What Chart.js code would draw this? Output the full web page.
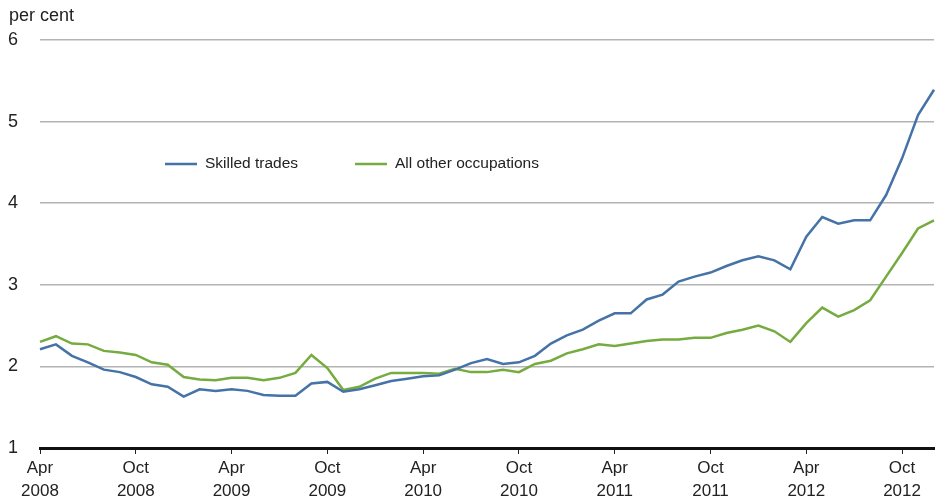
<!DOCTYPE html>
<html>
<head>
<meta charset="utf-8">
<script src="https://cdn.jsdelivr.net/npm/chart.js@4/dist/chart.umd.min.js"></script>
<style>
  html, body { margin: 0; padding: 0; background: #fff; }
  canvas { display: block; }
</style>
</head>
<body>
<canvas id="tradesChart" width="936" height="501"></canvas>
<script>
(function(){
  // monthly, Apr 2008 .. Dec 2012
  const months = [
    'Apr 2008','May 2008','Jun 2008','Jul 2008','Aug 2008','Sep 2008','Oct 2008','Nov 2008','Dec 2008',
    'Jan 2009','Feb 2009','Mar 2009','Apr 2009','May 2009','Jun 2009','Jul 2009','Aug 2009','Sep 2009','Oct 2009','Nov 2009','Dec 2009',
    'Jan 2010','Feb 2010','Mar 2010','Apr 2010','May 2010','Jun 2010','Jul 2010','Aug 2010','Sep 2010','Oct 2010','Nov 2010','Dec 2010',
    'Jan 2011','Feb 2011','Mar 2011','Apr 2011','May 2011','Jun 2011','Jul 2011','Aug 2011','Sep 2011','Oct 2011','Nov 2011','Dec 2011',
    'Jan 2012','Feb 2012','Mar 2012','Apr 2012','May 2012','Jun 2012','Jul 2012','Aug 2012','Sep 2012','Oct 2012','Nov 2012','Dec 2012'
  ];
  const tickMonths = ['Apr', 'Oct'];

  const skilledTrades = [
    2.21, 2.27, 2.13, 2.05, 1.96, 1.93, 1.87, 1.78, 1.75,
    1.63, 1.72, 1.70, 1.72, 1.70, 1.65, 1.64, 1.64, 1.79, 1.81, 1.69, 1.72,
    1.77, 1.82, 1.85, 1.88, 1.89, 1.96, 2.04, 2.09, 2.03, 2.05, 2.13, 2.28,
    2.38, 2.45, 2.56, 2.65, 2.65, 2.82, 2.88, 3.04, 3.10, 3.15, 3.23, 3.30,
    3.35, 3.30, 3.19, 3.59, 3.83, 3.75, 3.79, 3.79, 4.10, 4.55, 5.08, 5.39
  ];
  const otherOccupations = [
    2.30, 2.37, 2.28, 2.27, 2.19, 2.17, 2.14, 2.05, 2.02,
    1.87, 1.84, 1.83, 1.86, 1.86, 1.83, 1.86, 1.92, 2.14, 1.98, 1.71, 1.75,
    1.85, 1.92, 1.92, 1.92, 1.91, 1.97, 1.93, 1.93, 1.96, 1.93, 2.03, 2.07,
    2.16, 2.21, 2.27, 2.25, 2.28, 2.31, 2.33, 2.33, 2.35, 2.35, 2.41, 2.45,
    2.50, 2.43, 2.30, 2.53, 2.72, 2.61, 2.69, 2.81, 3.10, 3.39, 3.69, 3.79
  ];

  const BLUE = '#4572a7';
  const GREEN = '#76ab3f';
  const TEXT = '#222';
  const FONT = '"Liberation Sans", Arial, sans-serif';

  const isTick = i => tickMonths.includes(months[i].slice(0, 3));

  // unit label + legend drawn inside the plot, like the original
  const extras = {
    id: 'extras',
    afterDraw(chart) {
      const c = chart.ctx;
      c.save();
      c.fillStyle = TEXT;
      c.textBaseline = 'middle';
      c.font = '18px ' + FONT;
      c.fillText('per cent', 9, 16);

      const items = [
        { x: 165, label: chart.data.datasets[0].label, color: chart.data.datasets[0].borderColor },
        { x: 355, label: chart.data.datasets[1].label, color: chart.data.datasets[1].borderColor }
      ];
      const y = 164;
      c.font = '15.5px ' + FONT;
      items.forEach(it => {
        c.strokeStyle = it.color;
        c.lineWidth = 2.5;
        c.beginPath();
        c.moveTo(it.x, y);
        c.lineTo(it.x + 32, y);
        c.stroke();
        c.fillText(it.label, it.x + 40, y);
      });
      c.restore();
    }
  };

  const ctx = document.getElementById('tradesChart').getContext('2d');
  new Chart(ctx, {
    type: 'line',
    data: {
      labels: months,
      datasets: [
        { label: 'Skilled trades', data: skilledTrades, borderColor: BLUE, borderWidth: 2.5 },
        { label: 'All other occupations', data: otherOccupations, borderColor: GREEN, borderWidth: 2.5 }
      ]
    },
    options: {
      responsive: false,
      animation: false,
      layout: { padding: { left: 8, top: 40, right: 0, bottom: 0 } },
      elements: { point: { radius: 0 }, line: { tension: 0 } },
      plugins: { legend: { display: false }, tooltip: { enabled: false } },
      scales: {
        x: {
          offset: false,
          afterFit: s => { s.height = 53; },
          border: { display: true, color: '#111', width: 3 },
          grid: {
            drawOnChartArea: false,
            drawTicks: true,
            tickLength: 6,
            color: c => isTick(c.index) ? '#222' : 'rgba(0,0,0,0)'
          },
          ticks: {
            autoSkip: false,
            maxRotation: 0,
            padding: 2,
            color: TEXT,
            font: { family: FONT, size: 17, lineHeight: 1.4 },
            callback: (v, i) => isTick(i) ? months[i].split(' ') : ''
          }
        },
        y: {
          min: 1,
          max: 6,
          afterFit: s => { s.width = 32; },
          border: { display: false },
          grid: { color: '#b3b3b3', lineWidth: 1.5, drawTicks: false },
          ticks: {
            stepSize: 1,
            crossAlign: 'far',
            color: TEXT,
            font: { family: FONT, size: 18 }
          }
        }
      }
    },
    plugins: [extras]
  });
})();
</script>
</body>
</html>
